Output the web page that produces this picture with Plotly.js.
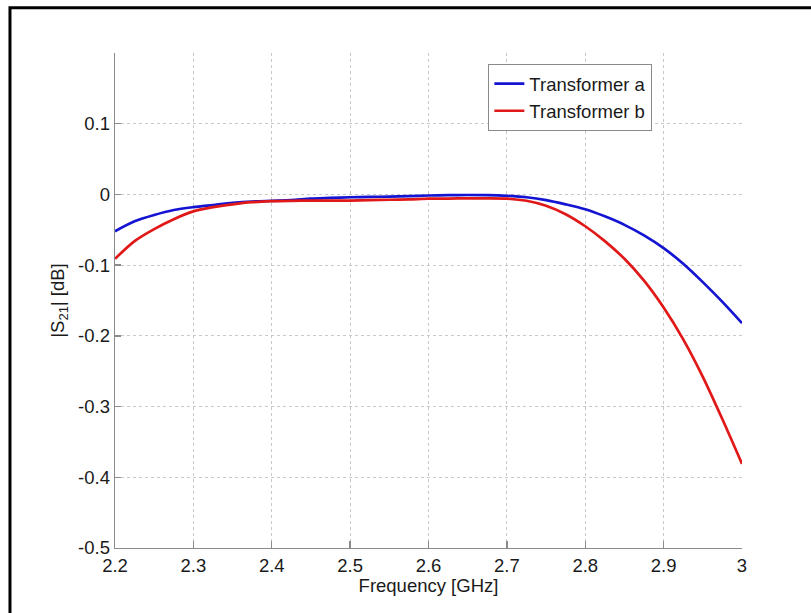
<!DOCTYPE html>
<html>
<head>
<meta charset="utf-8">
<script src="https://cdn.plot.ly/plotly-3.0.1.min.js"></script>
<style>html,body{margin:0;padding:0;background:#fff;}#chart{width:811px;height:613px;}</style>
</head>
<body>
<div id="chart"></div>
<script>
const freq = [2.2,2.225,2.25,2.275,2.3,2.325,2.35,2.375,2.4,2.425,2.45,2.475,2.5,2.525,2.55,2.575,2.6,2.625,2.65,2.675,2.7,2.725,2.75,2.775,2.8,2.825,2.85,2.875,2.9,2.925,2.95,2.975,3.0];
const transformerA = [-0.052,-0.038,-0.029,-0.022,-0.018,-0.015,-0.012,-0.010,-0.009,-0.008,-0.006,-0.005,-0.004,-0.0035,-0.003,-0.0025,-0.0015,-0.001,-0.0008,-0.001,-0.002,-0.004,-0.008,-0.014,-0.021,-0.031,-0.043,-0.058,-0.076,-0.098,-0.124,-0.152,-0.182];
const transformerB = [-0.091,-0.066,-0.049,-0.035,-0.024,-0.018,-0.014,-0.011,-0.0095,-0.009,-0.0088,-0.0087,-0.0087,-0.008,-0.0075,-0.007,-0.006,-0.0058,-0.0055,-0.0055,-0.006,-0.009,-0.016,-0.028,-0.045,-0.066,-0.091,-0.122,-0.160,-0.205,-0.258,-0.318,-0.381];
const seriesNames = ["Transformer a","Transformer b"];
const xTicks = [2.2,2.3,2.4,2.5,2.6,2.7,2.8,2.9,3];
const xTickText = ["2.2","2.3","2.4","2.5","2.6","2.7","2.8","2.9","3"];
const yTicks = [-0.5,-0.4,-0.3,-0.2,-0.1,0,0.1];
const yTickText = ["-0.5","-0.4","-0.3","-0.2","-0.1","0","0.1"];

const FONT = "Liberation Sans, Arial, sans-serif";
const FS = 18.5;
const data = [
  {x: freq, y: transformerA, name: seriesNames[0], type: "scatter", mode: "lines",
   line: {color: "#1414d2", width: 2.7, shape: "spline", smoothing: 0.8}},
  {x: freq, y: transformerB, name: seriesNames[1], type: "scatter", mode: "lines",
   line: {color: "#e01818", width: 2.7, shape: "spline", smoothing: 0.8}}
];
const layout = {
  width: 811, height: 613,
  margin: {l: 115, r: 69.3, t: 53, b: 65.3, pad: 0},
  paper_bgcolor: "#fff", plot_bgcolor: "#fff",
  font: {family: FONT, size: FS, color: "#1a1a1a"},
  showlegend: true,
  legend: {x: 0.595, y: 0.978, xanchor: "left", yanchor: "top",
    bgcolor: "#fff", bordercolor: "#8a8a8a", borderwidth: 1.3,
    entrywidth: 180, entrywidthmode: "pixels",
    font: {family: FONT, size: FS, color: "#1a1a1a"}, tracegroupgap: 0},
  xaxis: {range: [2.2, 3.0], tickmode: "array", tickvals: xTicks, ticktext: xTickText,
    ticks: "inside", ticklen: 7, tickcolor: "#8a8a8a", tickwidth: 1.3,
    showline: true, linecolor: "#8a8a8a", linewidth: 1.3, mirror: false,
    showgrid: true, gridcolor: "#c8c8c8", griddash: "dot", gridwidth: 1,
    zeroline: false, automargin: false,
    tickfont: {family: FONT, size: FS, color: "#1a1a1a"},
    title: {text: "Frequency [GHz]", standoff: 4, font: {family: FONT, size: FS, color: "#1a1a1a"}}},
  yaxis: {range: [-0.5, 0.2], tickmode: "array", tickvals: yTicks, ticktext: yTickText,
    ticks: "inside", ticklen: 6, tickcolor: "#8a8a8a", tickwidth: 1.3,
    showline: true, linecolor: "#8a8a8a", linewidth: 1.3, mirror: false,
    showgrid: true, gridcolor: "#c8c8c8", griddash: "dot", gridwidth: 1,
    zeroline: false, automargin: false,
    tickfont: {family: FONT, size: FS, color: "#1a1a1a"},
    title: {text: "|S<sub>21</sub>| [dB]", standoff: 8, font: {family: FONT, size: FS, color: "#1a1a1a"}}},
  shapes: [
    {type: "path", xref: "paper", yref: "paper",
     path: "M -0.1675,-0.2 L -0.1675,1.0915 L 1.3,1.0915",
     line: {color: "#000", width: 3}}
  ]
};
Plotly.newPlot("chart", data, layout, {displayModeBar: false, staticPlot: true});
</script>
</body>
</html>
